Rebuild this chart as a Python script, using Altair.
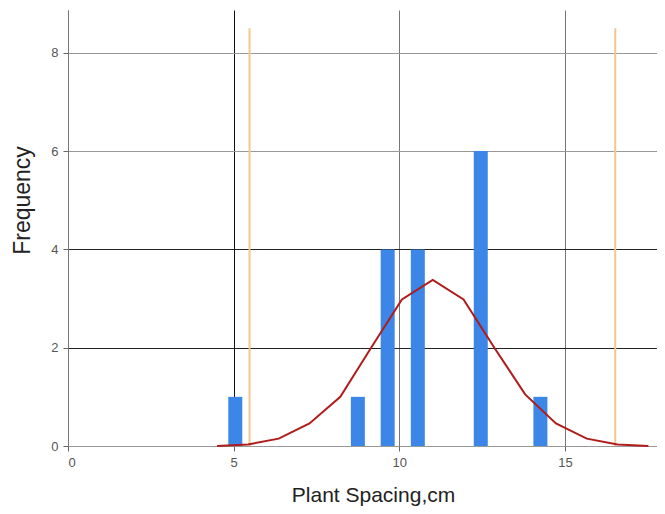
import altair as alt
import pandas as pd

# Histogram bars (bin centres, cm) and frequencies
bar_x = [5.05, 8.75, 9.65, 10.56, 12.46, 14.26]
bar_freq = [1, 1, 4, 4, 6, 1]

# Fitted normal curve
curve_x = [4.5, 5.43, 6.36, 7.29, 8.22, 9.15, 10.08, 11.01, 11.94, 12.87, 13.8, 14.73, 15.66, 16.59, 17.52]
curve_y = [0.0, 0.03, 0.15, 0.46, 1.0, 2.0, 2.98, 3.38, 2.98, 2.0, 1.05, 0.46, 0.15, 0.03, 0.0]

# Specification limit lines
limit_x = [5.48, 16.52]
limit_top = [8.5, 8.5]

x_ticks = [0, 5, 10, 15]
y_ticks = [0, 2, 4, 6, 8]

FONT = "Liberation Sans"

bars_df = pd.DataFrame({"x": bar_x, "y": bar_freq})
curve_df = pd.DataFrame({"x": curve_x, "y": curve_y})
limits_df = pd.DataFrame({"x": limit_x, "y": [0, 0], "y2": limit_top})

x_scale = alt.Scale(domain=[0, 17.78], nice=False, zero=False, padding=0)
y_scale = alt.Scale(domain=[0, 8.87], nice=False, padding=0)

x_axis = alt.Axis(
    values=x_ticks,
    title="Plant Spacing,cm",
    titleFont=FONT, titleFontSize=21, titleFontWeight="normal", titleColor="#222",
    titleX=305, titleY=49, titleBaseline="middle", titleAnchor="start", titleAlign="center",
    labelFont=FONT, labelFontSize=13, labelColor="#555", labelPadding=5,
    tickSize=5, tickColor="#666",
    domain=False,
    grid=True,
    gridColor={"condition": {"test": "datum.value === 5", "value": "#111"}, "value": "#777"},
    gridWidth=1,
)
y_axis = alt.Axis(
    values=y_ticks,
    title="Frequency",
    titleFont=FONT, titleFontSize=23, titleFontWeight="normal", titleColor="#222",
    titleX=-46, titleY=190, titleBaseline="middle", titleAlign="center", titleAngle=-90,
    labelFont=FONT, labelFontSize=13, labelColor="#555", labelPadding=5,
    tickSize=5, tickColor="#666",
    domain=True, domainColor="#777",
    grid=True,
    gridColor={"condition": {"test": "datum.value === 2 || datum.value === 4", "value": "#222"}, "value": "#999"},
    gridWidth=1,
)

X = alt.X("x:Q", scale=x_scale, axis=x_axis)
Y = alt.Y("y:Q", scale=y_scale, axis=y_axis)

bars = alt.Chart(bars_df).mark_bar(size=14, color="#3b86e6").encode(x=X, y=Y)

limits = alt.Chart(limits_df).mark_rule(color="#f5c48f", strokeWidth=2).encode(
    x=X, y=Y, y2="y2:Q"
)

curve = alt.Chart(curve_df).mark_line(color="#b01c1c", strokeWidth=2).encode(x=X, y=Y)

chart = (
    alt.layer(limits, bars, curve)
    .properties(
        width=589,
        height=436,
        autosize=alt.AutoSizeParams(type="none"),
        padding={"left": 60, "top": 2, "right": 0, "bottom": 60},
        background="white",
    )
    .configure_view(stroke=None)
)

chart.save("out.html", embed_options={"renderer": "svg", "actions": False})
